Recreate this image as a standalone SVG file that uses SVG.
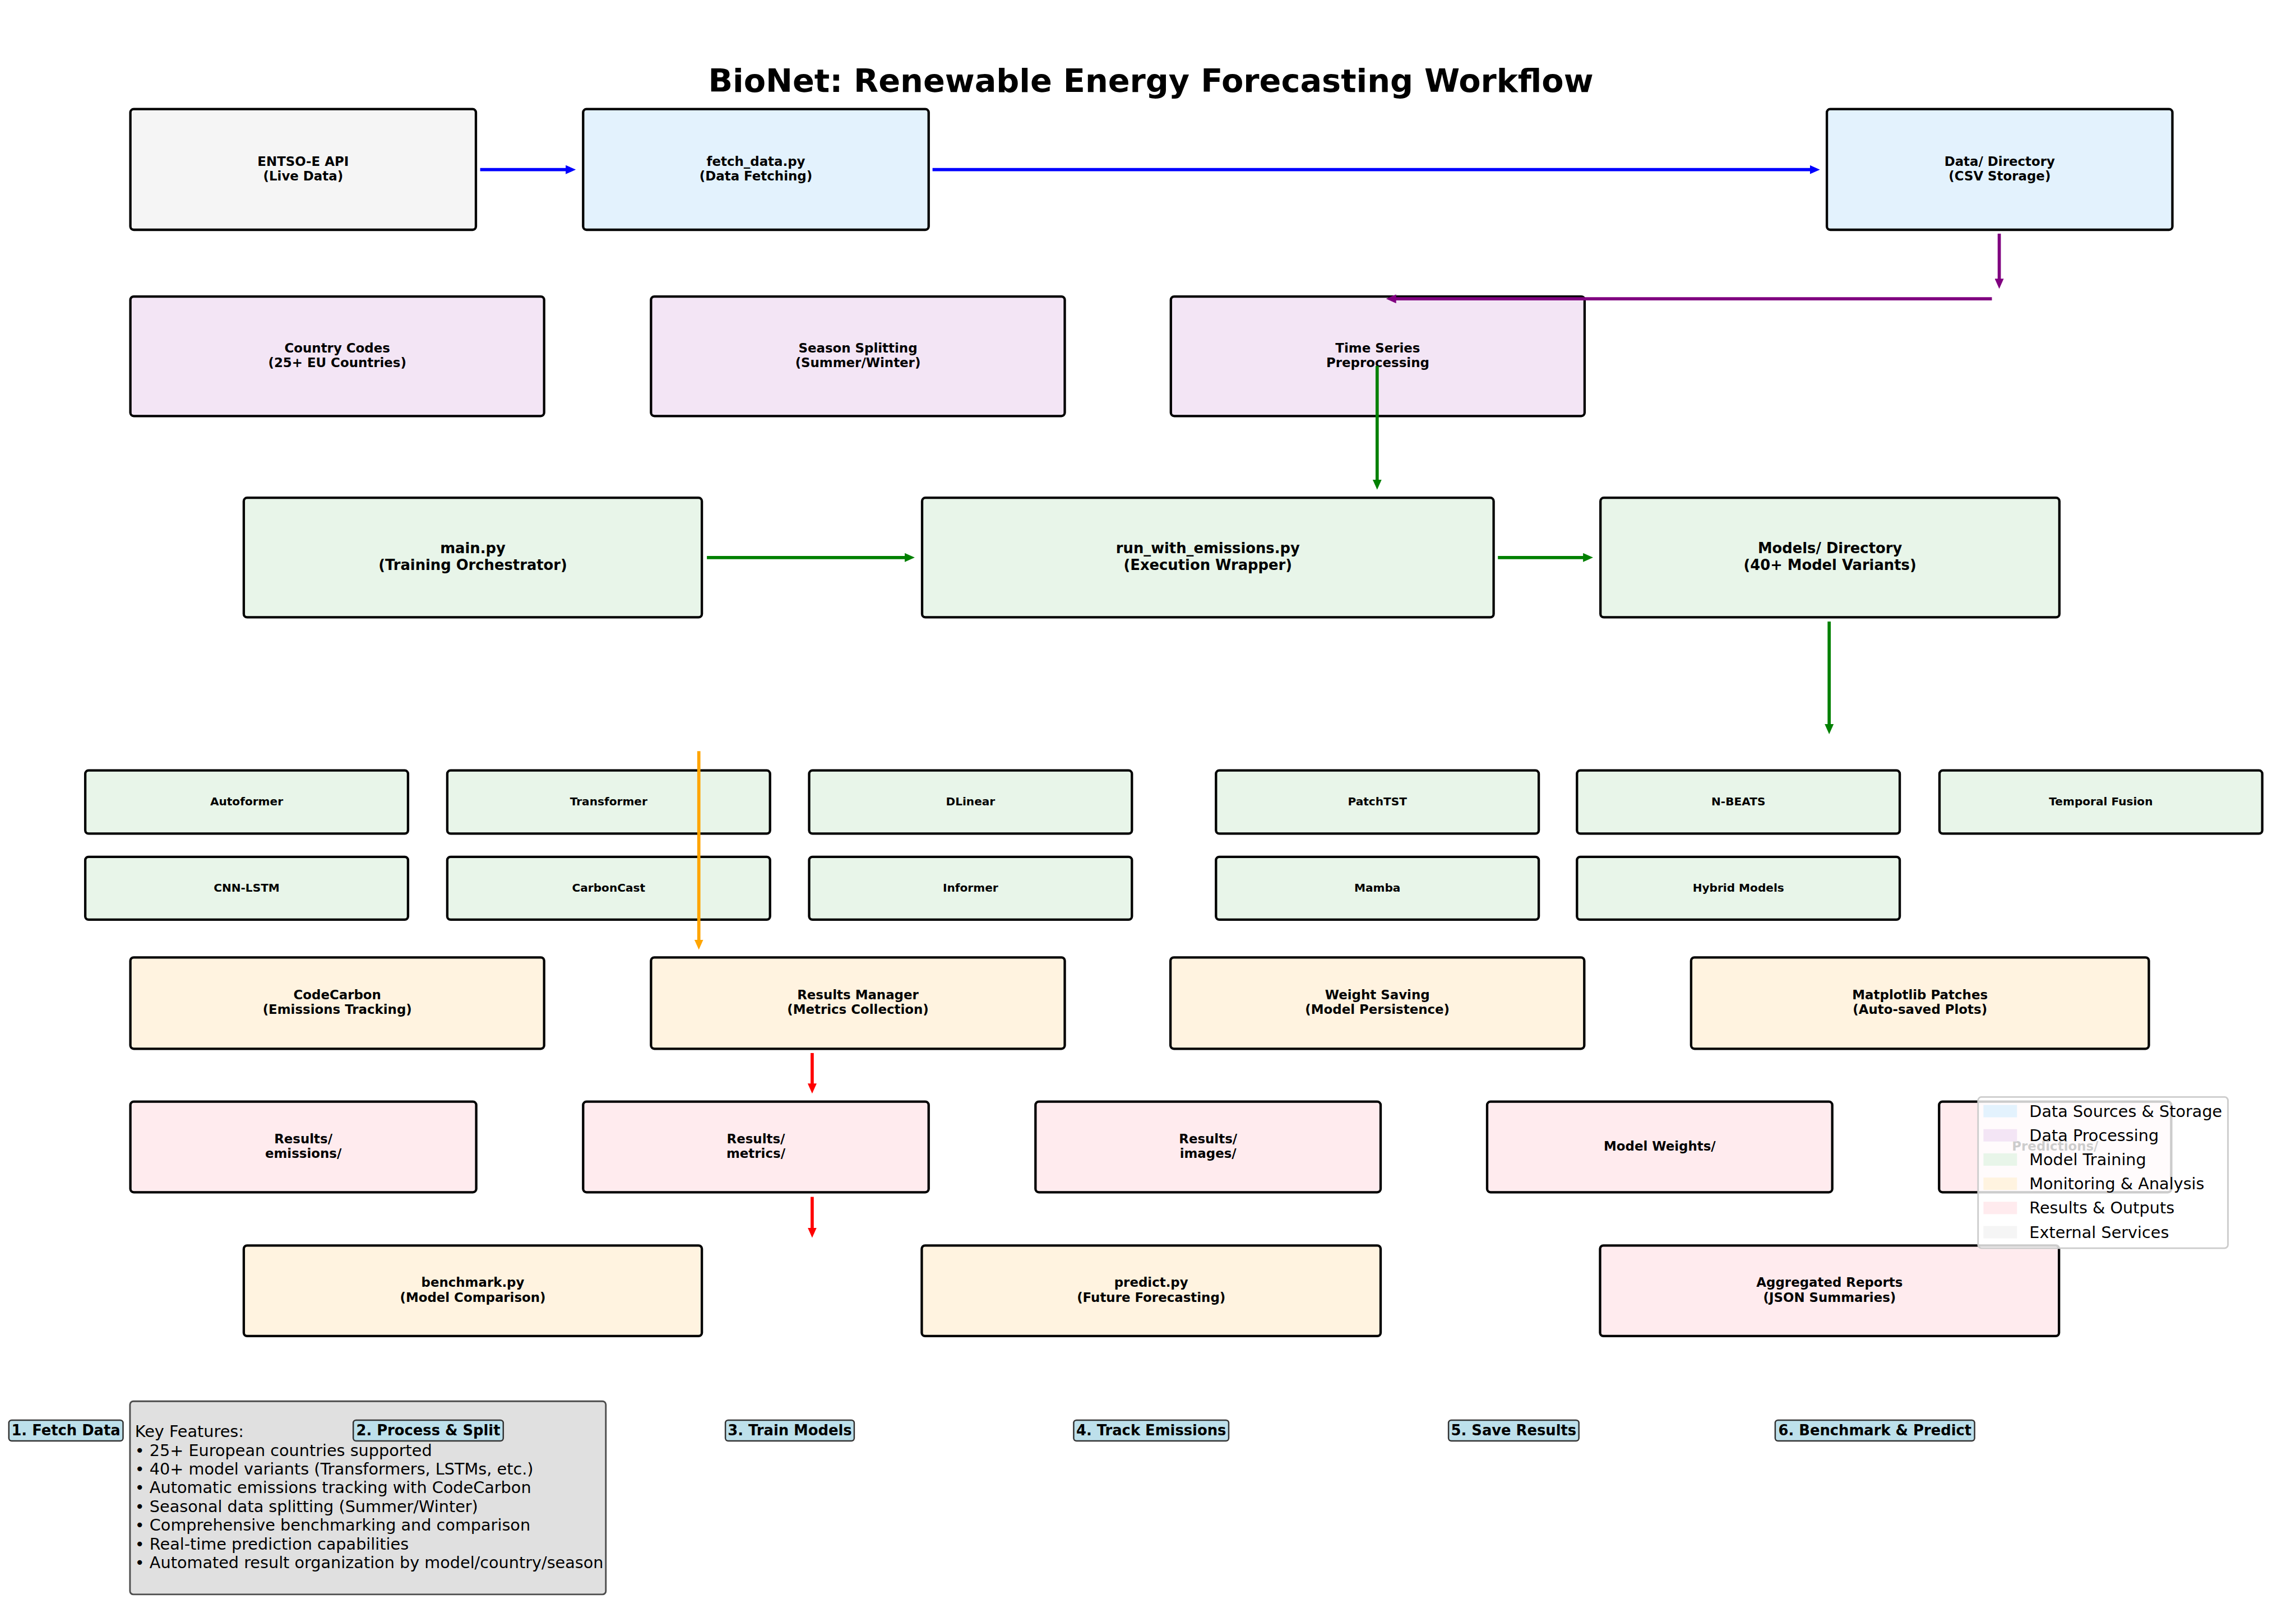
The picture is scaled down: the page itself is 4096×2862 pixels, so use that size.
<svg xmlns="http://www.w3.org/2000/svg" width="4096" height="2862" viewBox="0 0 4096 2862">
<style>
text{font-family:"DejaVu Sans","Liberation Sans",sans-serif;fill:#000}
.box{stroke:#000;stroke-width:4.3}
.ds{fill:#e3f2fd}.dp{fill:#f3e5f5}.mt{fill:#e8f5e9}.ma{fill:#fff3e0}.ro{fill:#ffebee}.ex{fill:#f5f5f5}
.l8{font-size:22.9px;font-weight:bold;text-anchor:middle}
.l9{font-size:25.8px;font-weight:bold;text-anchor:middle}
.l7{font-size:20.1px;font-weight:bold;text-anchor:middle}
.c{fill:none;stroke-width:5.7}
.stage rect{fill:#bde0eb;stroke:#333;stroke-width:2.5}
.stage text{font-size:25.8px;font-weight:bold;text-anchor:middle}
.leg{font-size:28.7px}
.kf{font-size:28.7px}
</style>
<defs>
<marker id="hb" markerUnits="userSpaceOnUse" markerWidth="18" markerHeight="16" viewBox="0 0 18 16" refX="8" refY="8" orient="auto"><path d="M0,0 L18,8 L0,16 Z" fill="#0000ff"/></marker>
<marker id="hp" markerUnits="userSpaceOnUse" markerWidth="18" markerHeight="16" viewBox="0 0 18 16" refX="8" refY="8" orient="auto"><path d="M0,0 L18,8 L0,16 Z" fill="#800080"/></marker>
<marker id="hg" markerUnits="userSpaceOnUse" markerWidth="18" markerHeight="16" viewBox="0 0 18 16" refX="8" refY="8" orient="auto"><path d="M0,0 L18,8 L0,16 Z" fill="#008000"/></marker>
<marker id="ho" markerUnits="userSpaceOnUse" markerWidth="18" markerHeight="16" viewBox="0 0 18 16" refX="8" refY="8" orient="auto"><path d="M0,0 L18,8 L0,16 Z" fill="#ffa500"/></marker>
<marker id="hr" markerUnits="userSpaceOnUse" markerWidth="18" markerHeight="16" viewBox="0 0 18 16" refX="8" refY="8" orient="auto"><path d="M0,0 L18,8 L0,16 Z" fill="#ff0000"/></marker>
</defs>
<rect width="4096" height="2862" fill="#fff"/>
<text x="2053" y="163.7" style="font-size:57.3px;font-weight:bold;text-anchor:middle">BioNet: Renewable Energy Forecasting Workflow</text>

<g id="nodes">
<g id="entsoe"><rect class="box ex" x="232.6" y="194.7" width="616.4" height="215.3" rx="6"/><text class="l8" x="540.8" y="295.5">ENTSO-E API</text><text class="l8" x="540.8" y="321.9">(Live Data)</text></g>
<g id="fetch"><rect class="box ds" x="1040.3" y="194.7" width="616.4" height="215.3" rx="6"/><text class="l8" x="1348.5" y="295.5">fetch_data.py</text><text class="l8" x="1348.5" y="321.9">(Data Fetching)</text></g>
<g id="datadir"><rect class="box ds" x="3259.1" y="194.7" width="616.4" height="215.3" rx="6"/><text class="l8" x="3567.3" y="295.5">Data/ Directory</text><text class="l8" x="3567.3" y="321.9">(CSV Storage)</text></g>

<g id="country"><rect class="box dp" x="232.6" y="529.1" width="738.1" height="213.2" rx="6"/><text class="l8" x="601.7" y="628.8">Country Codes</text><text class="l8" x="601.7" y="655.2">(25+ EU Countries)</text></g>
<g id="season"><rect class="box dp" x="1161.4" y="529.1" width="738.1" height="213.2" rx="6"/><text class="l8" x="1530.5" y="628.8">Season Splitting</text><text class="l8" x="1530.5" y="655.2">(Summer/Winter)</text></g>
<g id="timeseries"><rect class="box dp" x="2088.8" y="529.1" width="738.1" height="213.2" rx="6"/><text class="l8" x="2457.9" y="628.8">Time Series</text><text class="l8" x="2457.9" y="655.2">Preprocessing</text></g>

<g id="main"><rect class="box mt" x="434.9" y="888.2" width="817.2" height="213.2" rx="6"/><text class="l9" x="843.5" y="987.1">main.py</text><text class="l9" x="843.5" y="1016.7">(Training Orchestrator)</text></g>
<g id="run"><rect class="box mt" x="1645" y="888.2" width="1019.6" height="213.2" rx="6"/><text class="l9" x="2154.8" y="987.1">run_with_emissions.py</text><text class="l9" x="2154.8" y="1016.7">(Execution Wrapper)</text></g>
<g id="modelsdir"><rect class="box mt" x="2855.2" y="888.2" width="818.7" height="213.2" rx="6"/><text class="l9" x="3264.6" y="987.1">Models/ Directory</text><text class="l9" x="3264.6" y="1016.7">(40+ Model Variants)</text></g>

<g id="autoformer"><rect class="box mt" x="152.1" y="1374.7" width="575.8" height="112.7" rx="6"/><text class="l7" x="440" y="1436.7">Autoformer</text></g>
<g id="transformer"><rect class="box mt" x="797.9" y="1374.7" width="575.8" height="112.7" rx="6"/><text class="l7" x="1085.8" y="1436.7">Transformer</text></g>
<g id="dlinear"><rect class="box mt" x="1443.5" y="1374.7" width="575.8" height="112.7" rx="6"/><text class="l7" x="1731.4" y="1436.7">DLinear</text></g>
<g id="patchtst"><rect class="box mt" x="2169.3" y="1374.7" width="575.8" height="112.7" rx="6"/><text class="l7" x="2457.2" y="1436.7">PatchTST</text></g>
<g id="nbeats"><rect class="box mt" x="2813.3" y="1374.7" width="575.8" height="112.7" rx="6"/><text class="l7" x="3101.2" y="1436.7">N-BEATS</text></g>
<g id="tft"><rect class="box mt" x="3460" y="1374.7" width="575.8" height="112.7" rx="6"/><text class="l7" x="3747.9" y="1436.7">Temporal Fusion</text></g>
<g id="cnnlstm"><rect class="box mt" x="152.1" y="1528.8" width="575.8" height="112.1" rx="6"/><text class="l7" x="440" y="1590.5">CNN-LSTM</text></g>
<g id="carboncast"><rect class="box mt" x="797.9" y="1528.8" width="575.8" height="112.1" rx="6"/><text class="l7" x="1085.8" y="1590.5">CarbonCast</text></g>
<g id="informer"><rect class="box mt" x="1443.5" y="1528.8" width="575.8" height="112.1" rx="6"/><text class="l7" x="1731.4" y="1590.5">Informer</text></g>
<g id="mamba"><rect class="box mt" x="2169.3" y="1528.8" width="575.8" height="112.1" rx="6"/><text class="l7" x="2457.2" y="1590.5">Mamba</text></g>
<g id="hybrid"><rect class="box mt" x="2813.3" y="1528.8" width="575.8" height="112.1" rx="6"/><text class="l7" x="3101.2" y="1590.5">Hybrid Models</text></g>

<g id="codecarbon"><rect class="box ma" x="232.6" y="1708.3" width="738.1" height="163" rx="6"/><text class="l8" x="601.7" y="1782.9">CodeCarbon</text><text class="l8" x="601.7" y="1809.3">(Emissions Tracking)</text></g>
<g id="resultsmgr"><rect class="box ma" x="1161.4" y="1708.3" width="738.1" height="163" rx="6"/><text class="l8" x="1530.5" y="1782.9">Results Manager</text><text class="l8" x="1530.5" y="1809.3">(Metrics Collection)</text></g>
<g id="weightsaving"><rect class="box ma" x="2088.1" y="1708.3" width="738.2" height="163" rx="6"/><text class="l8" x="2457.2" y="1782.9">Weight Saving</text><text class="l8" x="2457.2" y="1809.3">(Model Persistence)</text></g>
<g id="mplpatches"><rect class="box ma" x="3016.9" y="1708.3" width="816.6" height="163" rx="6"/><text class="l8" x="3425.2" y="1782.9">Matplotlib Patches</text><text class="l8" x="3425.2" y="1809.3">(Auto-saved Plots)</text></g>

<g id="resemissions"><rect class="box ro" x="232.6" y="1965.7" width="617" height="161.6" rx="6"/><text class="l8" x="541.1" y="2039.6">Results/</text><text class="l8" x="541.1" y="2066">emissions/</text></g>
<g id="resmetrics"><rect class="box ro" x="1040.3" y="1965.7" width="616.4" height="161.6" rx="6"/><text class="l8" x="1348.5" y="2039.6">Results/</text><text class="l8" x="1348.5" y="2066">metrics/</text></g>
<g id="resimages"><rect class="box ro" x="1847.3" y="1965.7" width="615.7" height="161.6" rx="6"/><text class="l8" x="2155.2" y="2039.6">Results/</text><text class="l8" x="2155.2" y="2066">images/</text></g>
<g id="weights"><rect class="box ro" x="2653" y="1965.7" width="615.7" height="161.6" rx="6"/><text class="l8" x="2960.9" y="2052.9">Model Weights/</text></g>
<g id="predictions"><rect class="box ro" x="3459.3" y="1965.7" width="414.1" height="161.6" rx="6"/><text class="l8" x="3666.4" y="2052.9">Predictions/</text></g>

<g id="benchmark"><rect class="box ma" x="434.9" y="2222.3" width="817.2" height="161.6" rx="6"/><text class="l8" x="843.5" y="2296.2">benchmark.py</text><text class="l8" x="843.5" y="2322.6">(Model Comparison)</text></g>
<g id="predict"><rect class="box ma" x="1644.4" y="2222.3" width="818.6" height="161.6" rx="6"/><text class="l8" x="2053.7" y="2296.2">predict.py</text><text class="l8" x="2053.7" y="2322.6">(Future Forecasting)</text></g>
<g id="aggregated"><rect class="box ro" x="2854.5" y="2222.3" width="818.7" height="161.6" rx="6"/><text class="l8" x="3263.9" y="2296.2">Aggregated Reports</text><text class="l8" x="3263.9" y="2322.6">(JSON Summaries)</text></g>
</g>

<g id="connectors">
<line class="c" x1="856.6" y1="302.7" x2="1017.2" y2="302.7" stroke="#0000ff" marker-end="url(#hb)"/>
<line class="c" x1="1663.6" y1="302.7" x2="3236.7" y2="302.7" stroke="#0000ff" marker-end="url(#hb)"/>
<line class="c" x1="3566.6" y1="416.9" x2="3566.6" y2="505.3" stroke="#800080" marker-end="url(#hp)"/>
<line class="c" x1="3553.5" y1="533.2" x2="2482.7" y2="533.2" stroke="#800080" marker-end="url(#hp)"/>
<line class="c" x1="2456.8" y1="652.9" x2="2456.8" y2="863.8" stroke="#008000" marker-end="url(#hg)"/>
<line class="c" x1="1261.1" y1="994.8" x2="1621.9" y2="994.8" stroke="#008000" marker-end="url(#hg)"/>
<line class="c" x1="2672.2" y1="994.8" x2="2832.1" y2="994.8" stroke="#008000" marker-end="url(#hg)"/>
<line class="c" x1="3263.2" y1="1109" x2="3263.2" y2="1300" stroke="#008000" marker-end="url(#hg)"/>
<line class="c" x1="1246.7" y1="1340.2" x2="1246.7" y2="1684.5" stroke="#ffa500" marker-end="url(#ho)"/>
<line class="c" x1="1448.9" y1="1878.9" x2="1448.9" y2="1941.2" stroke="#ff0000" marker-end="url(#hr)"/>
<line class="c" x1="1448.9" y1="2135.6" x2="1448.9" y2="2198.5" stroke="#ff0000" marker-end="url(#hr)"/>
</g>

<g id="legend">
<rect x="3528.8" y="1957.4" width="445.8" height="269.7" rx="6" fill="#fff" fill-opacity="0.8" stroke="#cccccc" stroke-width="2.8"/>
<rect class="ds" x="3538.4" y="1971.5" width="59.9" height="22.1"/><text class="leg" x="3620.3" y="1992.6">Data Sources &amp; Storage</text>
<rect class="dp" x="3538.4" y="2014.7" width="59.9" height="22.1"/><text class="leg" x="3620.3" y="2035.8">Data Processing</text>
<rect class="mt" x="3538.4" y="2057.9" width="59.9" height="22.1"/><text class="leg" x="3620.3" y="2079">Model Training</text>
<rect class="ma" x="3538.4" y="2101.1" width="59.9" height="22.1"/><text class="leg" x="3620.3" y="2122.2">Monitoring &amp; Analysis</text>
<rect class="ro" x="3538.4" y="2144.3" width="59.9" height="22.1"/><text class="leg" x="3620.3" y="2165.4">Results &amp; Outputs</text>
<rect class="ex" x="3538.4" y="2187.5" width="59.9" height="22.1"/><text class="leg" x="3620.3" y="2208.6">External Services</text>
</g>

<g id="keyfeatures">
<rect x="231.9" y="2500.2" width="848.9" height="344.7" rx="6" fill="#e0e0e0" stroke="#4d4d4d" stroke-width="2.9"/>
<text class="kf" x="240.8" y="2564">Key Features:</text>
<text class="kf" x="240.8" y="2597.5">• 25+ European countries supported</text>
<text class="kf" x="240.8" y="2631">• 40+ model variants (Transformers, LSTMs, etc.)</text>
<text class="kf" x="240.8" y="2664.4">• Automatic emissions tracking with CodeCarbon</text>
<text class="kf" x="240.8" y="2697.8">• Seasonal data splitting (Summer/Winter)</text>
<text class="kf" x="240.8" y="2731.3">• Comprehensive benchmarking and comparison</text>
<text class="kf" x="240.8" y="2764.7">• Real-time prediction capabilities</text>
<text class="kf" x="240.8" y="2798.2">• Automated result organization by model/country/season</text>
</g>

<g id="stages" class="stage">
<g id="stage1"><rect x="15.8" y="2533.9" width="203.7" height="37.2" rx="5"/><text x="117.6" y="2561">1. Fetch Data</text></g>
<g id="stage2"><rect x="630.2" y="2533.9" width="267.6" height="37.2" rx="5"/><text x="764" y="2561">2. Process &amp; Split</text></g>
<g id="stage3"><rect x="1294.1" y="2533.9" width="229.8" height="37.2" rx="5"/><text x="1409" y="2561">3. Train Models</text></g>
<g id="stage4"><rect x="1915.4" y="2533.9" width="276.6" height="37.2" rx="5"/><text x="2053.7" y="2561">4. Track Emissions</text></g>
<g id="stage5"><rect x="2584.1" y="2533.9" width="232.6" height="37.2" rx="5"/><text x="2700.4" y="2561">5. Save Results</text></g>
<g id="stage6"><rect x="3166.9" y="2533.9" width="355.7" height="37.2" rx="5"/><text x="3344.8" y="2561">6. Benchmark &amp; Predict</text></g>
</g>
</svg>
